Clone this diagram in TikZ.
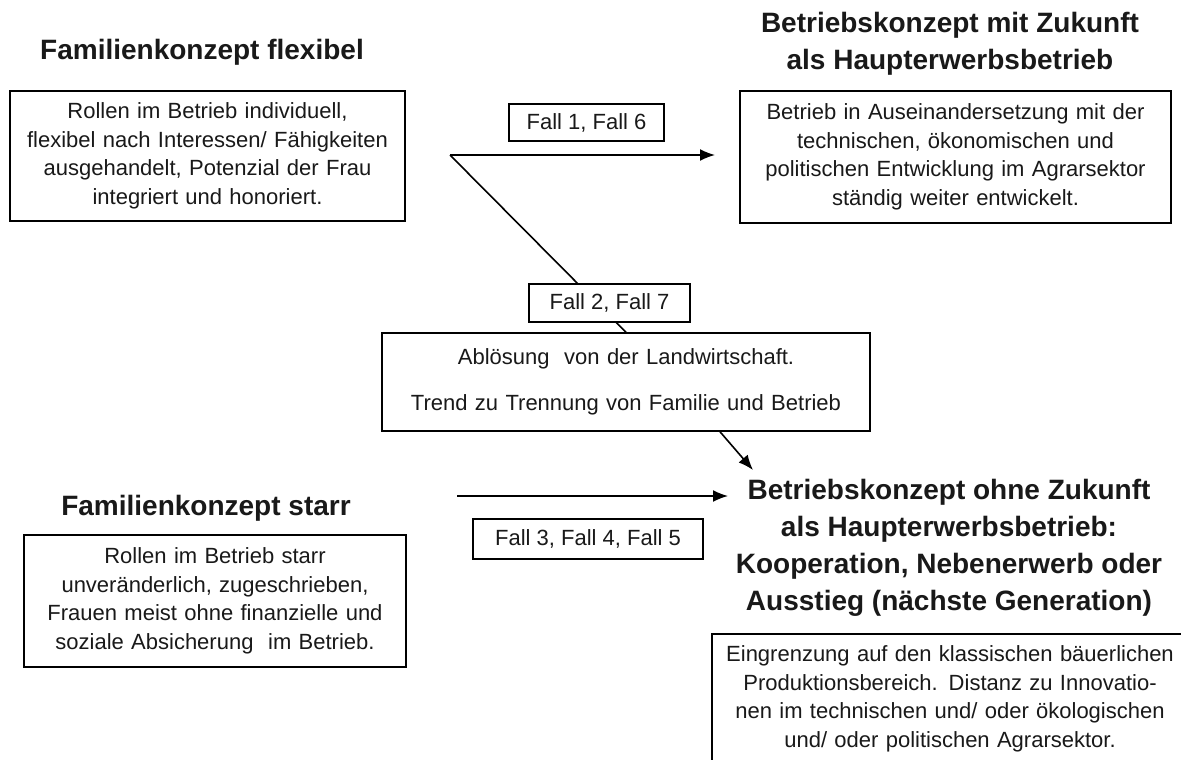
\documentclass[tikz,border=0pt]{standalone}
\usepackage{fontspec}
\setmainfont{Liberation Sans}
\usetikzlibrary{arrows.meta}
\tikzset{
	titel/.style={font=\bfseries\fontsize{28}{37}\selectfont,align=center,text=black!90},
	kasten/.style={draw,line width=1.5pt,font=\fontsize{22}{28.5}\selectfont,align=center,inner sep=0pt,text=black!90},
	fall/.style={draw,fill=white,line width=1.5pt,font=\fontsize{22}{26}\selectfont,inner sep=0pt,text=black!90},
	pfeil/.style={line width=1.6pt,-{Latex[length=15pt,width=12pt]}}
}
\begin{document}
\begin{tikzpicture}[x=1pt,y=-1pt]
	\useasboundingbox (0,0) rectangle (1181,760);
	\clip (0,0) rectangle (1181,760);
	\fill[white] (0,0) rectangle (1181,760);
	%Überschriften
	\node[titel] (flexibel) at (202,52) {Familienkonzept flexibel};
	\node[titel] (starr) at (206,508) {Familienkonzept starr};
	\node[titel] (mitzukunft) at (950,44) {Betriebskonzept mit Zukunft\\als Haupterwerbsbetrieb};
	\node[titel] (ohnezukunft) at (949,548) {Betriebskonzept ohne Zukunft\\als Haupterwerbsbetrieb:\\Kooperation, Nebenerwerb oder\\Ausstieg (nächste Generation)};
	%Kästen
	\node[kasten,text width=395pt,minimum height=130pt] (flexibeltext) at (207.5,156)
	{Rollen im Betrieb individuell,\\flexibel nach Interessen/ Fähigkeiten\\ausgehandelt, Potenzial der Frau\\integriert und honoriert.};
	\node[kasten,text width=382pt,minimum height=132pt] (starrtext) at (215,601)
	{Rollen im Betrieb starr\\unveränderlich, zugeschrieben,\\Frauen meist ohne finanzielle und\\soziale Absicherung\ \ im Betrieb.};
	\node[kasten,text width=431pt,minimum height=132pt] (mittext) at (955.5,157)
	{Betrieb in Auseinandersetzung mit der\\technischen, ökonomischen und\\politischen Entwicklung im Agrarsektor\\ständig weiter entwickelt.};
	\node[kasten,text width=488pt,minimum height=98pt] (abl) at (626,382)
	{Ablösung\ \ von der Landwirtschaft.\\[17pt]Trend zu Trennung von Familie und Betrieb};
	\node[kasten,text width=476pt,minimum height=130pt,anchor=north] (ohnetext) at (950,633)
	{Eingrenzung auf den klassischen bäuerlichen\\Produktionsbereich. Distanz zu Innovatio-\\nen im technischen und/ oder ökologischen\\und/ oder politischen Agrarsektor.};
	%Pfeile
	\coordinate (split) at (450,155);
	\coordinate (ziel1) at (715,155);
	\coordinate (start2) at (457,496);
	\coordinate (ziel2) at (728,496);
	\coordinate (ziel3) at (753,470);
	\draw[pfeil] (split) -- (ziel1);
	\draw[line width=1.6pt] (split) -- (abl.north);
	\draw[pfeil] ([xshift=94pt]abl.south) -- (ziel3);
	\draw[pfeil] (start2) -- (ziel2);
	%Fälle
	\node[fall,minimum width=155pt,minimum height=37pt] (fall16) at (586.5,122.5) {Fall 1, Fall 6};
	\node[fall,minimum width=161pt,minimum height=38pt] (fall27) at (609.5,303) {Fall 2, Fall 7};
	\node[fall,minimum width=230pt,minimum height=40pt] (fall345) at (588,539) {Fall 3, Fall 4, Fall 5};
\end{tikzpicture}
\end{document}
